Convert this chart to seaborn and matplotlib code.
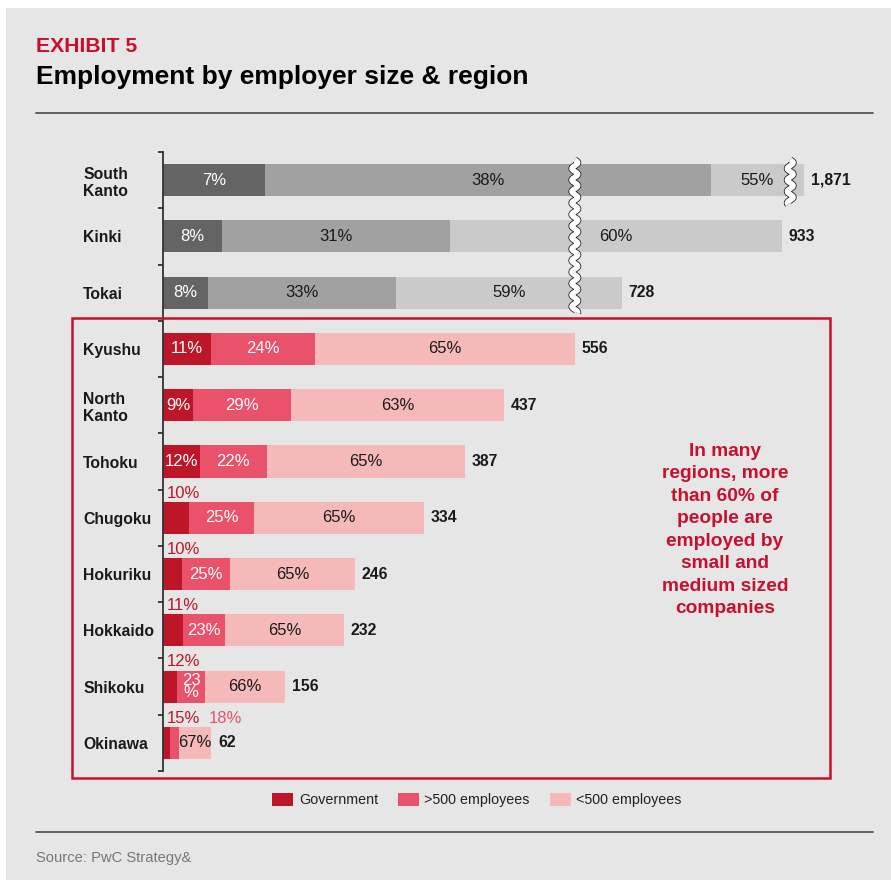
import numpy as np
import pandas as pd
import matplotlib
matplotlib.use("Agg")
import matplotlib.pyplot as plt
import seaborn as sns
from matplotlib.patches import Rectangle, Patch
from matplotlib.lines import Line2D

# ---------------- data ----------------
regions = ["South\nKanto", "Kinki", "Tokai", "Kyushu", "North\nKanto", "Tohoku",
           "Chugoku", "Hokuriku", "Hokkaido", "Shikoku", "Okinawa"]
totals = [1871, 933, 728, 556, 437, 387, 334, 246, 232, 156, 62]
pct_government = [7, 8, 8, 11, 9, 12, 10, 10, 11, 12, 15]
pct_large = [38, 31, 33, 24, 29, 22, 25, 25, 23, 23, 18]
pct_small = [55, 60, 59, 65, 63, 65, 65, 65, 65, 66, 67]
legend_labels = ["Government", ">500 employees", "<500 employees"]
n_gray = 3  # top regions drawn in grey with broken axis

# ---------------- style ----------------
sns.set_theme(style="white")
plt.rcParams["font.family"] = ["Liberation Sans", "DejaVu Sans"]

BG = "#e6e6e6"
GRAYS = ["#646464", "#a0a1a0", "#c9cac9"]
REDS = ["#be1629", "#e9526a", "#f6b9b9"]
BOX_RED = "#c8102e"
TXT = "#1a1a1a"

W, H, DPI = 891, 883, 100
fig = plt.figure(figsize=(W / DPI, H / DPI), dpi=DPI)
fig.patch.set_facecolor("white")
fig.add_artist(Rectangle((6 / W, 1 - 880 / H), (W - 6) / W, (880 - 8) / H,
                         transform=fig.transFigure, facecolor=BG, edgecolor="none", zorder=-10))

def px(x, y):
    return x / W, 1 - y / H

# axes placement
ax_l, ax_r, ax_t, ax_b = 163, 830, 152, 771
ax = fig.add_axes([ax_l / W, 1 - ax_b / H, (ax_r - ax_l) / W, (ax_b - ax_t) / H])
ax.set_facecolor("none")

# ---------------- data frame ----------------
rows = []
for i, r in enumerate(regions):
    s = pct_government[i] + pct_large[i] + pct_small[i]
    g = totals[i] * pct_government[i] / s
    l = totals[i] * pct_large[i] / s
    rows.append(dict(region=r, c1=g, c2=g + l, c3=totals[i]))
df = pd.DataFrame(rows)

layer_cols = []
for k in range(3):
    layer_cols.append({r: (GRAYS[k] if i < n_gray else REDS[k]) for i, r in enumerate(regions)})

bw = 0.57
for k, col in zip([2, 1, 0], ["c3", "c2", "c1"]):
    sns.barplot(data=df, y="region", x=col, hue="region", palette=layer_cols[k],
                order=regions, hue_order=regions, legend=False, orient="h",
                errorbar=None, width=bw, saturation=1, ax=ax, linewidth=0)

# ---------------- broken-axis scale ----------------
a1, b1 = 528, 668      # first gap (removed)
a2, b2 = 944, 1854     # second gap (removed)
eps = 1e-3
data_k = np.array([-1e6, 0, a1, b1, a2, b2, 1e6], dtype=float)
disp_k = [-1e6, 0.0, a1]
disp_k.append(disp_k[-1] + (b1 - a1) * eps)
disp_k.append(disp_k[-1] + (a2 - b1))
disp_k.append(disp_k[-1] + (b2 - a2) * eps)
disp_k.append(disp_k[-1] + (1e6 - b2))
disp_k = np.array(disp_k)

def fwd(x):
    return np.interp(np.asarray(x, dtype=float), data_k, disp_k)

def inv(y):
    return np.interp(np.asarray(y, dtype=float), disp_k, data_k)

ax.set_xscale("function", functions=(fwd, inv))
k_px = 0.78
ax.set_xlim(0, float(inv((ax_r - ax_l) / k_px)))
ax.set_ylim(len(regions) - 0.5, -0.5)

# axis styling
for sp in ["top", "right", "bottom"]:
    ax.spines[sp].set_visible(False)
ax.spines["left"].set_color("#333333")
ax.spines["left"].set_linewidth(1.3)
ax.set_xticks([])
ax.set_xlabel("")
ax.set_ylabel("")
ax.set_yticks(range(len(regions)))
ax.set_yticklabels(regions, fontsize=11.3, fontweight="bold", color=TXT, ha="left")
ax.tick_params(axis="y", which="major", left=True, length=0, pad=(ax_l - 83) * 72 / DPI)
ax.set_yticks(np.arange(-0.5, len(regions), 1.0), minor=True)
ax.tick_params(axis="y", which="minor", left=True, length=3.8, width=1.3,
               color="#333333", direction="out")

# ---------------- labels ----------------
fig.canvas.draw()
renderer = fig.canvas.get_renderer()
FS = 12

def seg_px(s, e, y):
    x0 = ax.transData.transform((s, y))[0]
    x1 = ax.transData.transform((e, y))[0]
    return x1 - x0

for i, row in df.iterrows():
    segs = [(0, row.c1), (row.c1, row.c2), (row.c2, row.c3)]
    pcts = [pct_government[i], pct_large[i], pct_small[i]]
    is_gray = i < n_gray
    cols_fill = GRAYS if is_gray else REDS
    txt_cols = ["white", TXT, TXT] if is_gray else ["white", "white", TXT]
    above_right = None
    for k, (s, e) in enumerate(segs):
        label = f"{pcts[k]}%"
        xm = float(inv((fwd(s) + fwd(e)) / 2))
        t = ax.text(xm, i, label, ha="center", va="center", fontsize=FS, color=txt_cols[k])
        tw = t.get_window_extent(renderer).width
        wseg = seg_px(s, e, i)
        if k == 2 or tw + 1 <= wseg:
            continue
        if k == 1:
            t2 = ax.text(xm, i, f"{pcts[k]}", fontsize=FS)
            w2 = t2.get_window_extent(renderer).width
            t2.remove()
            if w2 + 2 <= wseg:
                t.set_text(f"{pcts[k]}\n%")
                t.set_linespacing(0.8)
                continue
        # place above the bar
        t.remove()
        if above_right is None:
            off = 4 * 72 / DPI
        else:
            off = (above_right - ax.transData.transform((0, i))[0] + 8) * 72 / DPI
        ta = ax.annotate(label, xy=(0, i - bw / 2), xytext=(off, 0.8),
                         textcoords="offset points", ha="left", va="bottom",
                         fontsize=FS, color=cols_fill[0] if k == 0 else cols_fill[1])
        fig.canvas.draw()
        above_right = ta.get_window_extent(renderer).x1
    # total value
    ax.annotate(f"{totals[i]:,}", xy=(row.c3, i), xytext=(5, 0), textcoords="offset points",
                ha="left", va="center", fontsize=11.3, fontweight="bold", color=TXT)

# ---------------- break marks ----------------
def wave(x_disp_center, y0, y1, zord=6):
    ys_px = np.linspace(0, (y1 - y0) * (ax_b - ax_t) / len(regions), 400)
    amp = 3.0 / k_px
    xs_disp = x_disp_center + amp * np.sin(2 * np.pi * ys_px / 11.5)
    xs = inv(xs_disp)
    ys = np.linspace(y0, y1, 400)
    ax.plot(xs, ys, color="#222222", lw=5.0, solid_capstyle="butt", zorder=zord, clip_on=False)
    ax.plot(xs, ys, color="white", lw=3.8, solid_capstyle="butt", zorder=zord + 0.1, clip_on=False)

wave(float(fwd(a1)), -0.36, 2.36)
wave(float(fwd(a2)), -0.36, 0.43)

# ---------------- decorations ----------------
fig.text(*px(36, 46), "EXHIBIT 5", color=BOX_RED, fontsize=15.2, fontweight="bold", va="center", ha="left")
fig.text(*px(36, 77), "Employment by employer size & region", color="black", fontsize=19,
         fontweight="bold", va="center", ha="left")
fig.add_artist(Line2D([36 / W, 873 / W], [1 - 113 / H] * 2, color="#555555", lw=1.3))
fig.add_artist(Line2D([36 / W, 873 / W], [1 - 832 / H] * 2, color="#555555", lw=1.3))
fig.text(*px(36, 858), "Source: PwC Strategy&", color="#777777", fontsize=10.6, va="center", ha="left")

fig.add_artist(Rectangle((72 / W, 1 - 778 / H), (830 - 72) / W, (778 - 318) / H,
                         transform=fig.transFigure, facecolor="none", edgecolor=BOX_RED,
                         lw=1.8, zorder=5))
fig.text(*px(725, 530), "In many\nregions, more\nthan 60% of\npeople are\nemployed by\nsmall and\nmedium sized\ncompanies",
         color=BOX_RED, fontsize=13.8, fontweight="bold", ha="center", va="center", linespacing=1.42)

handles = [Patch(facecolor=c, edgecolor="none") for c in REDS]
fig.legend(handles, legend_labels, loc="center", bbox_to_anchor=px(477, 800), ncol=3,
           frameon=False, fontsize=10.3, handlelength=1.45, handleheight=1.1,
           handletextpad=0.4, columnspacing=1.4, labelcolor="#222222")

fig.savefig("out.png", dpi=DPI, facecolor=fig.get_facecolor())
